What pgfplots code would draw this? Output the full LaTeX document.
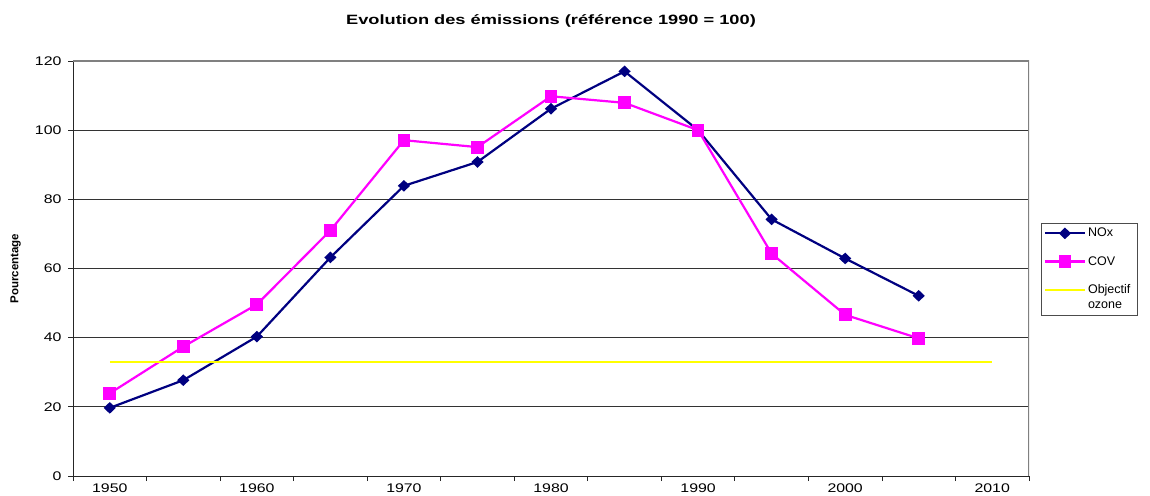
\documentclass[border=0pt]{standalone}
\usepackage{fontspec}
\setmainfont{Liberation Sans}
\newfontfamily\wide{Liberation Sans}[FakeStretch=1.27]
\newfontfamily\widetitle{Liberation Sans}[FakeStretch=1.35]
\usepackage{pgfplots}
\pgfplotsset{compat=1.18}
\pgfplotsset{raisedlegend/.style={legend image code/.code={\draw[##1] (0pt,7.5pt) -- (40pt,7.5pt);}}}
\definecolor{navy}{HTML}{000080}
\definecolor{mag}{HTML}{FF00FF}
\definecolor{yel}{HTML}{FFFF00}
\begin{document}
\begin{tikzpicture}
\begin{axis}[
  scale only axis, width=956pt, height=415pt,
  xmin=-0.5, xmax=12.5, ymin=0, ymax=120,
  axis x line*=bottom, axis y line*=left,
  axis line style={black!85, line width=0.9pt, -},
  xtick={-0.5,0.5,...,12.5}, xticklabels={},
  extra x ticks={0,2,...,12},
  extra x tick labels={1950,1960,1970,1980,1990,2000,2010},
  extra x tick style={major tick length=0pt, grid=none, xticklabel style={yshift=-4pt}},
  ytick={0,20,...,120},
  tick align=outside, major tick length=5pt,
  tick style={black!85, line width=0.8pt},
  ymajorgrids, grid style={black!80, line width=0.8pt},
  /pgf/number format/assume math mode=true,
  tick label style={font=\wide\fontsize{12.5}{14}\selectfont},
  yticklabel style={xshift=-3pt},
  title={Evolution des émissions (référence 1990 = 100)},
  title style={font=\widetitle\bfseries\fontsize{13.5}{15}\selectfont, at={(axis description cs:0.5,1)}, anchor=center, yshift=34pt},
  ylabel={Pourcentage},
  ylabel style={font=\bfseries\fontsize{11.5}{12}\selectfont, at={(axis description cs:-0.06,0.5)}, anchor=center},
  legend style={at={(axis description cs:1.013,0.61)}, anchor=north west, draw=black!70, line width=0.8pt,
    font=\fontsize{12.5}{15}\selectfont, cells={align=left, anchor=west}, row sep=14pt, inner xsep=2pt, inner ysep=3pt},
  legend image code/.code={\draw[mark repeat=2,mark phase=2,#1] plot coordinates {(0pt,0pt) (20pt,0pt) (40pt,0pt)};},
]
\addplot[navy, line width=2.2pt, mark=diamond*, mark size=4.3pt, mark options={xscale=1.4, solid}]
  coordinates {(0,19.7) (1,27.7) (2,40.3) (3,63.2) (4,83.9) (5,90.8) (6,106.2) (7,117.0) (8,100) (9,74.2) (10,62.9) (11,52.1)};
\addlegendentry{NOx}
\addplot[mag, line width=2.2pt, mark=square*, mark size=5.3pt, mark options={solid}]
  coordinates {(0,23.9) (1,37.4) (2,49.6) (3,71.0) (4,97.1) (5,95.1) (6,109.8) (7,107.9) (8,100) (9,64.3) (10,46.6) (11,39.8)};
\addlegendentry{COV}
\addplot[yel, line width=2pt, mark=none, raisedlegend]
  coordinates {(0,33) (12,33)};
\addlegendentry{Objectif\hspace*{3pt}\\ozone}
\draw[black!50, line width=1.3pt] (rel axis cs:0,1) -- (rel axis cs:1,1) -- (rel axis cs:1,0);
\end{axis}
\pgfresetboundingbox
\path[use as bounding box] (-73pt,-19pt) rectangle (1077pt,476pt);
\end{tikzpicture}
\end{document}
